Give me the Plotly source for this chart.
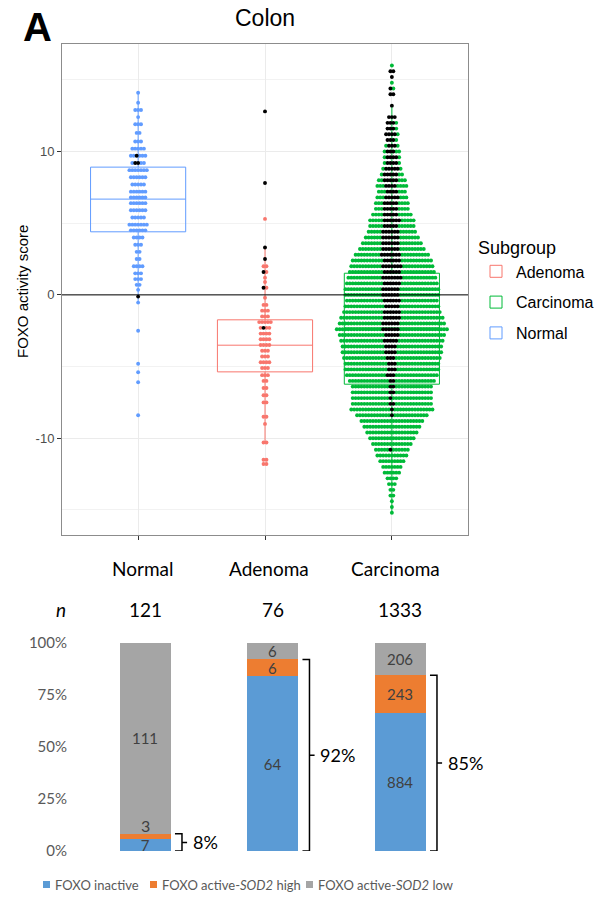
import plotly.graph_objects as go

W, H = 594, 898

# ---------------- data: top panel (FOXO activity score) ----------------
groups = ["Normal", "Adenoma", "Carcinoma"]
group_pos = [1, 2, 3]
group_colors = ["#619CFF", "#F8766D", "#00BA38"]

box_q1 = [4.40, -5.37, -6.23]
box_median = [6.68, -3.51, -2.30]
box_q3 = [8.91, -1.74, 1.51]
box_lower = [-0.54, -10.30, -15.20]
box_upper = [14.10, 3.30, 13.20]

normal_score = [14.1, 13.4, 12.9, 12.4, 11.9, 11.3, 10.7, 10.2, 9.7, 9.2, 8.7, 8.2, 7.7, 7.2,
                6.8, 6.4, 5.9, 5.4, 4.9, 4.5, 4.0, 3.5, 3.0, 2.5, 2.0, 1.5, 1.1, 0.7, 0.35,
                -0.12, -0.54, -2.5, -4.8, -5.4, -6.1, -8.4]
normal_n = [1, 1, 3, 1, 3, 2, 3, 5, 6, 5, 7, 6, 5, 6, 6, 6, 6, 5, 7, 6, 4, 3, 2, 2, 4, 3, 3, 2, 1,
            1, 1, 1, 1, 1, 1, 1]
normal_black = [0, 0, 0, 0, 0, 0, 0, 0, 1, 2, 0, 0, 0, 0, 0, 0, 0, 0, 0, 0, 0, 0, 0, 0, 0, 0, 0, 0, 0,
                1, 0, 0, 0, 0, 0, 0]

aden_score = [12.8, 7.8, 5.3, 3.3, 2.5, 2.0, 1.6, 1.2, 0.9, 0.5, -0.2, -0.7, -1.1, -1.5, -1.9,
              -2.3, -2.7, -3.1, -3.5, -3.9, -4.3, -4.7, -5.1, -5.6, -6.0, -6.5, -7.0, -7.5,
              -8.5, -9.0, -10.3, -11.5, -11.8]
aden_n = [1, 1, 1, 1, 1, 2, 2, 1, 1, 2, 1, 2, 3, 3, 5, 4, 4, 4, 4, 3, 3, 4, 3, 3, 2, 2, 2, 2,
          2, 1, 2, 2, 2]
aden_black = [1, 1, 0, 1, 1, 0, 1, 0, 0, 1, 0, 0, 0, 0, 0, 1, 0, 0, 0, 0, 0, 0, 0, 0, 0, 0, 0, 0,
              0, 0, 0, 0, 0]

carc_score = [16.0, 15.6, 15.2, 14.8, 14.4, 14.0, 13.6, 13.2, 12.8, 12.4, 12.0, 11.6, 11.2, 10.8,
              10.4, 10.0, 9.6, 9.2, 8.8, 8.4, 8.0, 7.6, 7.2, 6.8, 6.4, 6.0, 5.6, 5.2, 4.8, 4.4,
              4.0, 3.6, 3.2, 2.8, 2.4, 2.0, 1.6, 1.2, 0.8, 0.4, 0.0, -0.4, -0.8, -1.2, -1.6,
              -2.0, -2.4, -2.8, -3.2, -3.6, -4.0, -4.4, -4.8, -5.2, -5.6, -6.0, -6.4, -6.8,
              -7.2, -7.6, -8.0, -8.4, -8.8, -9.2, -9.6, -10.0, -10.4, -10.8, -11.2, -11.6,
              -12.0, -12.4, -12.8, -13.2, -13.6, -14.0, -14.4, -14.8, -15.2]
carc_n = [1, 2, 1, 1, 2, 2, 0, 1, 0, 3, 4, 4, 5, 4,
          5, 6, 6, 6, 7, 8, 10, 11, 10, 11, 12, 12, 14, 16, 16, 17,
          19, 21, 23, 26, 28, 29, 30, 31, 32, 33, 33, 32, 33, 34, 36,
          37, 39, 37, 36, 35, 35, 34, 33, 33, 32, 30, 28, 28,
          28, 28, 29, 25, 22, 20, 18, 16, 14, 12, 11, 9,
          7, 6, 4, 3, 2, 2, 1, 1, 1]
carc_black = [0, 2, 1, 0, 1, 2, 0, 1, 0, 3, 3, 3, 4, 3,
              3, 3, 4, 4, 5, 5, 5, 4, 4, 5, 5, 5, 5, 6, 5, 6,
              6, 6, 6, 7, 6, 7, 6, 7, 6, 6, 6, 6, 5, 6, 6,
              6, 6, 5, 5, 4, 4, 3, 3, 3, 3, 2, 2, 2,
              1, 2, 1, 1, 0, 0, 0, 0, 0, 1, 0, 0,
              0, 0, 0, 0, 0, 0, 0, 0, 0]

# ---------------- data: bottom panel ----------------
n_total = [121, 76, 1333]
foxo_inactive = [7, 64, 884]
sod2_high = [3, 6, 243]
sod2_low = [111, 6, 206]
bar_names = ["FOXO inactive", "FOXO active-<i>SOD2</i> high", "FOXO active-<i>SOD2</i> low"]
bar_colors = ["#5B9BD5", "#ED7D31", "#A5A5A5"]
pct_ticks = [0, 25, 50, 75, 100]

FONT_R = "Liberation Sans, Arial, sans-serif"
FONT_X = "Lato, Open Sans, sans-serif"


def px_y(py):
    return 1 - py / H


def swarm(center, scores, counts, blacks, dx):
    xc, yc, xb, yb = [], [], [], []
    for v, n, b in zip(scores, counts, blacks):
        offs = [(k - (n - 1) / 2) * dx for k in range(n)]
        offs.sort(key=abs)
        for i, o in enumerate(offs):
            if i < b:
                xb.append(center + o); yb.append(v)
            else:
                xc.append(center + o); yc.append(v)
    return xc, yc, xb, yb


fig = go.Figure()

# boxes
for i, g in enumerate(groups):
    fig.add_trace(go.Box(
        x=[group_pos[i]], q1=[box_q1[i]], median=[box_median[i]], q3=[box_q3[i]],
        lowerfence=[box_lower[i]], upperfence=[box_upper[i]],
        name=g, legendgroup=g, legendrank={"Adenoma": 1, "Carcinoma": 2, "Normal": 3}[g],
        width=0.75, whiskerwidth=0, boxpoints=False,
        line=dict(color=group_colors[i], width=1), fillcolor="rgba(0,0,0,0)",
        xaxis="x", yaxis="y", legend="legend", hoverinfo="skip"))

dx = 2.9 / 126.9
data_rows = [(normal_score, normal_n, normal_black),
             (aden_score, aden_n, aden_black),
             (carc_score, carc_n, carc_black)]
blacks_x, blacks_y = [], []
for i, (s, n, b) in enumerate(data_rows):
    xc, yc, xb, yb = swarm(group_pos[i], s, n, b, dx)
    fig.add_trace(go.Scatter(x=xc, y=yc, mode="markers", showlegend=False,
                             marker=dict(size=3.9, color=group_colors[i], line=dict(width=0)),
                             xaxis="x", yaxis="y", hoverinfo="skip"))
    blacks_x += xb
    blacks_y += yb
fig.add_trace(go.Scatter(x=blacks_x, y=blacks_y, mode="markers", showlegend=False,
                         marker=dict(size=3.9, color="black", line=dict(width=0)),
                         xaxis="x", yaxis="y", hoverinfo="skip"))

# stacked bars
series = [foxo_inactive, sod2_high, sod2_low]
for j, vals in enumerate(series):
    pct = [v / t * 100 for v, t in zip(vals, n_total)]
    txt = [str(v) for v in vals]
    if j == 1:
        txt[0] = ""  # shown above the thin segment instead
    sizes = [16, 15 if j > 0 else 16, 16]
    fig.add_trace(go.Bar(
        x=group_pos, y=pct, width=0.4, name=bar_names[j], showlegend=False,
        marker=dict(color=bar_colors[j], line=dict(width=0)),
        text=txt, textposition="inside", insidetextanchor="middle", constraintext="none",
        textfont=dict(family=FONT_X, size=sizes, color="#404040"), textangle=0,
        xaxis="x2", yaxis="y2", hoverinfo="skip"))

annotations = []
shapes = []

# thin-segment label above normal bar
annotations.append(dict(xref="x2", yref="y2", x=group_pos[0],
                        y=(foxo_inactive[0] + sod2_high[0]) / n_total[0] * 100,
                        text=str(sod2_high[0]), showarrow=False, yanchor="bottom", yshift=-3,
                        font=dict(family=FONT_X, size=16, color="#404040")))

# brackets
for i in range(3):
    c = group_pos[i]
    top = (foxo_inactive[i] + sod2_high[i]) / n_total[i] * 100
    xh, xv, xt = c + 0.235, c + 0.29, c + 0.33
    shapes.append(dict(type="path", xref="x2", yref="y2",
                       path=f"M {xh},{top} L {xv},{top} L {xv},0 L {xh},0 M {xv},{top/2} L {xt},{top/2}",
                       line=dict(color="black", width=1.5)))
    annotations.append(dict(xref="x2", yref="y2", x=c + 0.36, y=top / 2, xanchor="left",
                            text=f"{round(top):d}%", showarrow=False,
                            font=dict(family=FONT_X, size=18, color="black")))

# manual bottom legend (Excel style)
legend_sq_x = [43, 150, 306]
for j in range(3):
    x0 = legend_sq_x[j]
    shapes.append(dict(type="rect", xref="paper", yref="paper",
                       x0=x0 / W, x1=(x0 + 7) / W, y0=px_y(888), y1=px_y(881),
                       fillcolor=bar_colors[j], line=dict(width=0)))
    annotations.append(dict(xref="paper", yref="paper", x=(x0 + 10) / W, y=px_y(884.5),
                            xanchor="left", yanchor="middle", text=bar_names[j], showarrow=False,
                            font=dict(family=FONT_X, size=13, color="#595959")))

# category labels, n
for i, g in enumerate(groups):
    annotations.append(dict(xref="x", yref="paper", x=group_pos[i], y=px_y(568), xshift=4,
                            text=g, showarrow=False, yanchor="middle",
                            font=dict(family=FONT_X, size=19, color="black")))
    annotations.append(dict(xref="x2", yref="paper", x=group_pos[i], y=px_y(609),
                            text=str(n_total[i]), showarrow=False, yanchor="middle",
                            font=dict(family=FONT_X, size=19, color="black")))
annotations.append(dict(xref="paper", yref="paper", x=54 / W, y=px_y(609), text="<i>n</i>",
                        showarrow=False, yanchor="middle",
                        font=dict(family=FONT_X, size=19, color="black")))

# titles
annotations.append(dict(xref="paper", yref="paper", x=21 / W, y=px_y(27), text="<b>A</b>",
                        showarrow=False, yanchor="middle",
                        font=dict(family=FONT_R, size=40, color="black")))
annotations.append(dict(xref="paper", yref="paper", x=265 / W, y=px_y(18), text="Colon",
                        showarrow=False, yanchor="middle",
                        font=dict(family=FONT_R, size=23, color="black")))
annotations.append(dict(xref="paper", yref="paper", x=22 / W, y=px_y(292), text="FOXO activity score",
                        showarrow=False, textangle=-90, xanchor="center", yanchor="middle",
                        font=dict(family=FONT_R, size=15, color="black")))

# zero line
shapes.append(dict(type="line", xref="x domain", yref="y", x0=0, x1=1, y0=0, y1=0,
                   line=dict(color="black", width=1), layer="above"))

fig.update_layout(
    width=W, height=H, margin=dict(l=0, r=0, t=0, b=0, autoexpand=False),
    paper_bgcolor="white", plot_bgcolor="white",
    barmode="stack",
    uniformtext=dict(minsize=15, mode="show"),
    xaxis=dict(domain=[62 / W, 468 / W], range=[0.4, 3.6], tickvals=group_pos, showticklabels=False,
               ticks="outside", ticklen=4, tickcolor="#333333", showgrid=True, gridcolor="#ebebeb",
               showline=True, mirror=True, linecolor="#8c8c8c", linewidth=1, zeroline=False,
               anchor="y"),
    yaxis=dict(domain=[px_y(535), px_y(44)], range=[-16.75, 17.5], tickvals=[-10, 0, 10],
               ticktext=["-10", "0", "10"], ticks="outside", ticklen=4, tickcolor="#333333",
               tickfont=dict(family=FONT_R, size=13, color="#4d4d4d"),
               showgrid=True, gridcolor="#ebebeb",
               minor=dict(tickvals=[-15, -5, 5, 15], showgrid=True, gridcolor="#f2f2f2", ticks=""),
               showline=True, mirror=True, linecolor="#8c8c8c", linewidth=1, zeroline=False,
               anchor="x"),
    xaxis2=dict(domain=[68 / W, 1], range=[0.396, 4.5215], visible=False, anchor="y2"),
    yaxis2=dict(domain=[px_y(851), px_y(643)], range=[0, 100], tickvals=pct_ticks,
                ticktext=[f"{t}%" for t in pct_ticks], showgrid=False, showline=False, ticks="",
                zeroline=False, tickfont=dict(family=FONT_X, size=15, color="#595959"), anchor="x2"),
    legend=dict(title=dict(text="Subgroup", font=dict(family=FONT_R, size=18, color="black")),
                x=476 / W, y=px_y(231), xanchor="left", yanchor="top",
                font=dict(family=FONT_R, size=16, color="black"), tracegroupgap=7,
                bgcolor="rgba(0,0,0,0)"),
    annotations=annotations, shapes=shapes,
)

fig.write_html("out.html", config={"displayModeBar": False},
               post_script="document.body.style.margin='0';")
